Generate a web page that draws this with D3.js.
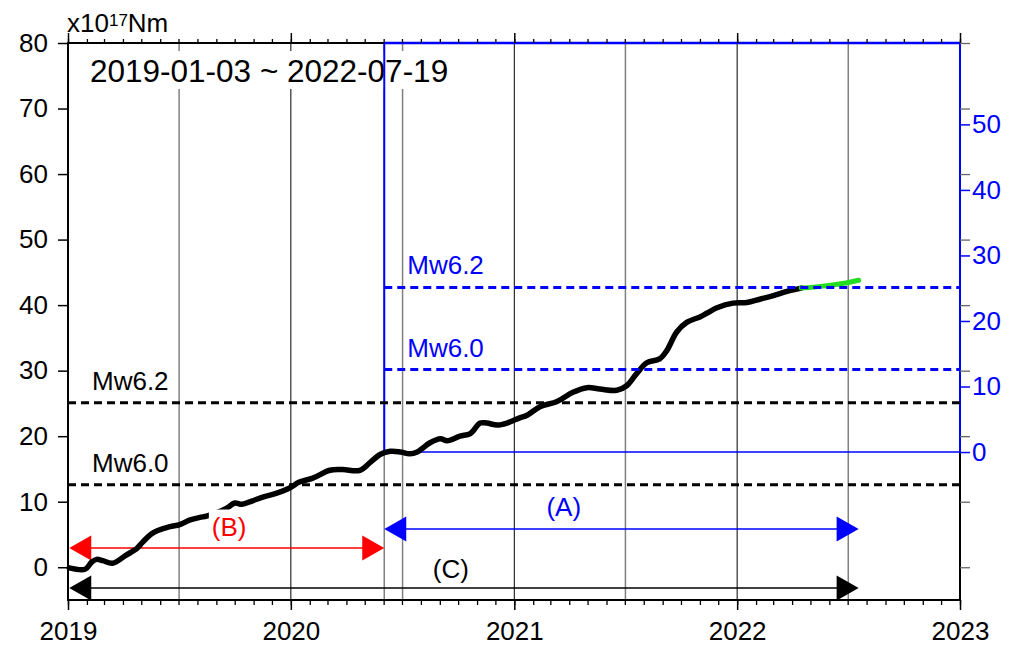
<!DOCTYPE html>
<html><head><meta charset="utf-8">
<script src="https://cdn.jsdelivr.net/npm/d3@7"></script>
<style>
body{margin:0;background:#fff}
svg{display:block}
text{font-family:"Liberation Sans",Arial,Helvetica,sans-serif}
</style>
</head><body>
<svg id="c" width="1022" height="646"></svg>
<script>
// ---------- data ----------
const periodText = "2019-01-03 ~ 2022-07-19";
const periodStart = "2019-01-03";
const periodEnd = "2022-07-19";
const windowStart = "2020-06-02";
const rightOffset = 17.58;           // value of the curve at windowStart (right axis zero)

const blackDates = ["2019-01-03","2019-01-29","2019-02-09","2019-02-17","2019-02-27","2019-03-15","2019-04-07","2019-04-23","2019-05-03","2019-05-18","2019-05-28","2019-06-17","2019-07-03","2019-07-19","2019-08-05","2019-08-16","2019-09-01","2019-09-18","2019-10-01","2019-10-13","2019-10-29","2019-11-16","2019-12-09","2019-12-30","2020-01-15","2020-02-06","2020-03-05","2020-03-26","2020-04-23","2020-05-10","2020-05-26","2020-06-12","2020-06-28","2020-07-14","2020-07-26","2020-08-16","2020-09-02","2020-09-13","2020-10-04","2020-10-21","2020-11-06","2020-11-17","2020-12-04","2020-12-20","2021-01-10","2021-01-22","2021-02-12","2021-03-12","2021-04-07","2021-04-30","2021-05-21","2021-06-18","2021-07-04","2021-07-20","2021-08-06","2021-08-27","2021-09-08","2021-09-24","2021-10-11","2021-11-01","2021-11-13","2021-11-29","2021-12-25","2022-01-17","2022-02-07","2022-02-28","2022-03-28","2022-04-16"];
const blackValues = [-0.1,-0.3,0.8,1.2,1.0,0.6,1.9,2.8,3.8,5.1,5.6,6.2,6.5,7.2,7.6,7.8,8.3,9.0,9.8,9.6,10.1,10.7,11.3,12.1,13.0,13.6,14.8,14.9,14.8,16.0,17.2,17.7,17.6,17.3,17.6,19.0,19.6,19.3,20.0,20.4,22.0,22.0,21.7,22.0,22.8,23.2,24.5,25.3,26.7,27.4,27.2,27.0,27.7,29.5,31.2,31.8,33.1,35.9,37.4,38.2,38.8,39.6,40.3,40.4,40.9,41.4,42.2,42.6];

const greenDates = ["2022-04-16","2022-05-21","2022-06-23","2022-07-19"];
const greenValues = [42.6,42.9,43.3,43.8];

const leftTicks = [0,10,20,30,40,50,60,70,80];
const rightTicks = [0,10,20,30,40,50];
const yearTicks = ["2019-01-01","2020-01-01","2021-01-01","2022-01-01","2023-01-01"];
const yearGrid = ["2020-01-01","2021-01-01","2022-01-01"];
const halfYearGrid = ["2019-07-02","2020-07-02","2021-07-02","2022-07-02"];

const mwLabels = ["Mw6.0","Mw6.2"];
const mwMoments = [12.59,25.12];     // x10^17 Nm

const arrowLabels = ["(C)","(B)","(A)"];
const arrowStarts = [periodStart, periodStart, windowStart];
const arrowEnds = [periodEnd, windowStart, periodEnd];
const arrowLevels = [-3.17, 2.93, 5.84];
const arrowLabelDates = ["2020-09-19","2019-09-22","2021-03-23"];
const arrowColors = ["#000000","#ff0000","#0000ff"];

// ---------- setup ----------
const parse = d3.utcParse("%Y-%m-%d");
const svg = d3.select("#c");
const X0 = 68, X1 = 960, Y0 = 43, Y1 = 600;
const FS = 26;
const BLUE = "#0000ff";

const x = d3.scaleUtc().domain([parse("2019-01-01"), parse("2023-01-01")]).range([X0, X1]);
const y = d3.scaleLinear().domain([-5, 80]).range([Y1, Y0]);
const yR = d3.scaleLinear().domain([-5 - rightOffset, 80 - rightOffset]).range([Y1, Y0]);

// ---------- grid ----------
const g = svg.append("g");
g.selectAll(".hy").data(halfYearGrid.concat([windowStart])).join("line")
  .attr("x1", d => x(parse(d))).attr("x2", d => x(parse(d)))
  .attr("y1", Y0).attr("y2", Y1).attr("stroke", "#808080").attr("stroke-width", 1.5);
g.selectAll(".yr").data(yearGrid).join("line")
  .attr("x1", d => x(parse(d))).attr("x2", d => x(parse(d)))
  .attr("y1", Y0).attr("y2", Y1).attr("stroke", "#000").attr("stroke-width", 1);

// period text with white box
const pt = svg.append("text").attr("x", 90).attr("y", 82).attr("font-size", 31.5).attr("fill", "#000").text(periodText);
const bb = pt.node().getBBox();
svg.insert("rect", "text").attr("x", bb.x - 4).attr("y", bb.y - 2).attr("width", bb.width + 8).attr("height", bb.height + 2).attr("fill", "#fff");

// ---------- frame ----------
svg.append("rect").attr("x", X0).attr("y", Y0).attr("width", X1 - X0).attr("height", Y1 - Y0)
  .attr("fill", "none").attr("stroke", "#000").attr("stroke-width", 2);

// ---------- arrows ----------
const HW = 22, HH = 12.5;
arrowLabels.forEach((lab, i) => {
  const xa = x(parse(arrowStarts[i])), xb = x(parse(arrowEnds[i])), ya = y(arrowLevels[i]);
  const col = arrowColors[i];
  svg.append("line").attr("x1", xa + 5).attr("x2", xb - 5).attr("y1", ya).attr("y2", ya)
    .attr("stroke", col).attr("stroke-width", 1.6);
  svg.append("path").attr("d", `M${xa},${ya}L${xa + HW},${ya - HH}L${xa + HW},${ya + HH}Z`).attr("fill", col);
  svg.append("path").attr("d", `M${xb},${ya}L${xb - HW},${ya - HH}L${xb - HW},${ya + HH}Z`).attr("fill", col);
});

// ---------- blue window frame ----------
const xs = x(parse(windowStart));
svg.append("line").attr("x1", xs).attr("x2", X1).attr("y1", yR(0)).attr("y2", yR(0)).attr("stroke", BLUE).attr("stroke-width", 1.5);
svg.append("line").attr("x1", xs).attr("x2", xs).attr("y1", Y0).attr("y2", yR(0)).attr("stroke", BLUE).attr("stroke-width", 2);
svg.append("line").attr("x1", X1).attr("x2", X1).attr("y1", Y0).attr("y2", yR(0)).attr("stroke", BLUE).attr("stroke-width", 2);
svg.append("line").attr("x1", xs).attr("x2", X1 + 1).attr("y1", Y0).attr("y2", Y0).attr("stroke", BLUE).attr("stroke-width", 2.5);

// ---------- curves ----------
const line = d3.line().x(d => x(d[0])).y(d => y(d[1])).curve(d3.curveCatmullRom.alpha(0.5));
const blackPts = blackDates.map((d, i) => [parse(d), blackValues[i]]);
const greenPts = greenDates.map((d, i) => [parse(d), greenValues[i]]);
svg.append("path").attr("d", line(blackPts)).attr("fill", "none").attr("stroke", "#000")
  .attr("stroke-width", 5.5).attr("stroke-linejoin", "round").attr("stroke-linecap", "round");
svg.append("path").attr("d", line(greenPts)).attr("fill", "none").attr("stroke", "#22dd22")
  .attr("stroke-width", 5).attr("stroke-linejoin", "round").attr("stroke-linecap", "round");

// ---------- dashed Mw lines ----------
mwMoments.forEach((m, i) => {
  svg.append("line").attr("x1", X0).attr("x2", X1).attr("y1", y(m)).attr("y2", y(m))
    .attr("stroke", "#000").attr("stroke-width", 3).attr("stroke-dasharray", "8,5");
  svg.append("text").attr("x", 92).attr("y", y(m) - 13).attr("font-size", FS).attr("fill", "#000").text(mwLabels[i]);
  svg.append("line").attr("x1", xs).attr("x2", X1).attr("y1", yR(m)).attr("y2", yR(m))
    .attr("stroke", BLUE).attr("stroke-width", 3).attr("stroke-dasharray", "8,5");
  svg.append("text").attr("x", xs + 23).attr("y", yR(m) - 13).attr("font-size", FS).attr("fill", BLUE).text(mwLabels[i]);
});

// ---------- arrow labels ----------
arrowLabels.forEach((lab, i) => {
  const t = svg.append("text").attr("x", x(parse(arrowLabelDates[i]))).attr("y", y(arrowLevels[i]) - (i === 0 ? 10 : 12.5))
    .attr("text-anchor", "middle").attr("font-size", FS).attr("fill", arrowColors[i]).text(lab);
  if (i === 1) {
    const b = t.node().getBBox();
    svg.insert("rect", () => t.node()).attr("x", b.x - 3).attr("y", b.y - 2).attr("width", b.width + 6).attr("height", b.height + 2).attr("fill", "#fff");
  }
});

// ---------- axes ----------
function styleAxis(sel, color, tw) {
  sel.select(".domain").remove();
  sel.selectAll(".tick line").attr("stroke", color).attr("stroke-width", tw);
  sel.selectAll(".tick text").attr("fill", color).attr("font-size", FS).attr("font-family", "Liberation Sans, Arial, sans-serif");
}
const months = d3.utcMonth.range(parse("2019-01-01"), parse("2023-01-02"));
const years = yearTicks.map(parse);

styleAxis(svg.append("g").attr("transform", `translate(0,${Y1})`)
  .call(d3.axisBottom(x).tickValues(months).tickSize(5).tickFormat("")), "#000", 1.3);
styleAxis(svg.append("g").attr("transform", `translate(0,${Y1})`)
  .call(d3.axisBottom(x).tickValues(years).tickSize(10).tickPadding(12).tickFormat(d3.utcFormat("%Y"))), "#000", 1.5);
styleAxis(svg.append("g").attr("transform", `translate(0,${Y0})`)
  .call(d3.axisTop(x).tickValues(months).tickSize(4).tickFormat("")), "#000", 1.3);
styleAxis(svg.append("g").attr("transform", `translate(0,${Y0})`)
  .call(d3.axisTop(x).tickValues(years).tickSize(10).tickFormat("")), "#000", 1.5);
styleAxis(svg.append("g").attr("transform", `translate(${X0},0)`)
  .call(d3.axisLeft(y).tickValues(leftTicks).tickSize(10).tickPadding(10)), "#000", 1.5);
styleAxis(svg.append("g").attr("transform", `translate(${X1},0)`)
  .call(d3.axisRight(y).tickValues(leftTicks).tickSize(10).tickFormat("")), "#666", 1.3);
styleAxis(svg.append("g").attr("transform", `translate(${X1},0)`)
  .call(d3.axisRight(yR).tickValues(rightTicks).tickSize(10).tickPadding(2)), BLUE, 1.5);

// ---------- unit label ----------
const ul = svg.append("text").attr("x", 67).attr("y", 32).attr("font-size", FS).attr("fill", "#000");
ul.append("tspan").text("x10");
ul.append("tspan").attr("font-size", 17).attr("dy", -6).text("17");
ul.append("tspan").attr("dy", 6).text("Nm");
</script>
</body></html>
